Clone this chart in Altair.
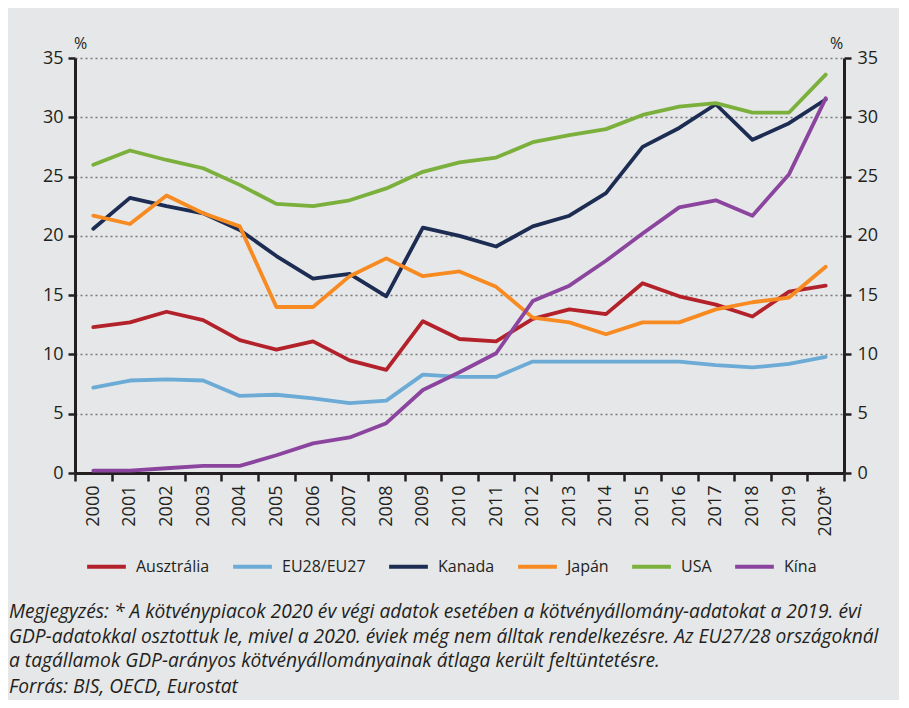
import altair as alt
import pandas as pd

years = [str(y) for y in range(2000, 2020)] + ["2020*"]

series_names = ["Ausztrália", "EU28/EU27", "Kanada", "Japán", "USA", "Kína"]
series_colors = ["#b3222b", "#6cabd6", "#1c2c52", "#f78b21", "#7bb03c", "#8b459e"]

ausztralia = [12.3, 12.7, 13.6, 12.9, 11.2, 10.4, 11.1, 9.5, 8.7, 12.8, 11.3, 11.1,
              13.0, 13.8, 13.4, 16.0, 14.9, 14.2, 13.2, 15.3, 15.8]
eu = [7.2, 7.8, 7.9, 7.8, 6.5, 6.6, 6.3, 5.9, 6.1, 8.3, 8.1, 8.1,
      9.4, 9.4, 9.4, 9.4, 9.4, 9.1, 8.9, 9.2, 9.8]
kanada = [20.6, 23.2, 22.5, 21.9, 20.5, 18.3, 16.4, 16.8, 14.9, 20.7, 20.0, 19.1,
          20.8, 21.7, 23.6, 27.5, 29.1, 31.1, 28.1, 29.5, 31.5]
japan = [21.7, 21.0, 23.4, 21.9, 20.8, 14.0, 14.0, 16.6, 18.1, 16.6, 17.0, 15.7,
         13.1, 12.7, 11.7, 12.7, 12.7, 13.8, 14.4, 14.8, 17.4]
usa = [26.0, 27.2, 26.4, 25.7, 24.3, 22.7, 22.5, 23.0, 24.0, 25.4, 26.2, 26.6,
       27.9, 28.5, 29.0, 30.2, 30.9, 31.2, 30.4, 30.4, 33.6]
kina = [0.2, 0.2, 0.4, 0.6, 0.6, 1.5, 2.5, 3.0, 4.2, 7.0, 8.5, 10.1,
        14.5, 15.8, 17.9, 20.2, 22.4, 23.0, 21.7, 25.2, 31.6]

y_ticks = [0, 5, 10, 15, 20, 25, 30, 35]

note_text = ("Megjegyzés: * A kötvénypiacok 2020 év végi adatok esetében a kötvényállomány-adatokat a 2019. évi\n"
             "GDP-adatokkal osztottuk le, mivel a 2020. éviek még nem álltak rendelkezésre. Az EU27/28 országoknál\n"
             "a tagállamok GDP-arányos kötvényállományainak átlaga került feltüntetésre.")
source_text = "Forrás: BIS, OECD, Eurostat"

rows = []
for k, (name, vals) in enumerate(zip(series_names, [ausztralia, eu, kanada, japan, usa, kina])):
    for yr, v in zip(years, vals):
        rows.append({"Év": yr, "Ország": name, "Érték": v, "k": k})
df = pd.DataFrame(rows)

FONT = "Open Sans"
INK = "#231f20"
W, H = 769, 415

x_scale = alt.Scale(type="band", paddingInner=0, paddingOuter=0)
x_axis = alt.Axis(labelAngle=270, labelAlign="right", labelBaseline="middle",
                  tickBand="extent", tickSize=8, tickWidth=2.5, tickColor=INK,
                  domainColor=INK, domainWidth=3, labelPadding=4,
                  labelFontSize=18, labelColor=INK, grid=False, labelFont=FONT)
y_scale = alt.Scale(domain=[0, 35], nice=False)

lines = alt.Chart(df).mark_line(strokeWidth=3.8, strokeJoin="round", strokeCap="round").encode(
    x=alt.X("Év:O", sort=years, title=None, scale=x_scale, axis=x_axis),
    y=alt.Y("Érték:Q", scale=y_scale,
            axis=alt.Axis(values=y_ticks, orient="left", title="%", titleAngle=0,
                          titleAlign="center", titleBaseline="bottom", titleX=5, titleY=-7,
                          titleFontSize=16, titleFontWeight="normal", titleColor=INK, titleFont=FONT,
                          grid=True, gridDash=[2, 3], gridColor="#7a7a7a", gridWidth=1.3,
                          tickSize=7, tickWidth=2.5, tickColor=INK,
                          domainColor=INK, domainWidth=3, labelPadding=5,
                          labelFontSize=18, labelColor=INK, labelFont=FONT)),
    color=alt.Color("Ország:N", sort=series_names,
                    scale=alt.Scale(domain=series_names, range=series_colors),
                    legend=alt.Legend(title=None, orient="none", direction="horizontal",
                                      legendX=10, legendY=487, symbolType="stroke",
                                      symbolSize=1500, symbolStrokeWidth=4,
                                      labelFontSize=16, labelColor=INK, labelFont=FONT,
                                      columnPadding=15, labelOffset=8)),
    order=alt.Order("k:Q"),
)

right_axis = alt.Chart(df).mark_point(opacity=0).encode(
    x=alt.X("Év:O", sort=years, title=None, scale=x_scale, axis=x_axis),
    y=alt.Y("Érték:Q", scale=y_scale,
            axis=alt.Axis(values=y_ticks, orient="right", title="%", titleAngle=0,
                          titleAlign="center", titleBaseline="bottom", titleX=-8, titleY=-7,
                          titleFontSize=16, titleFontWeight="normal", titleColor=INK, titleFont=FONT,
                          grid=False, tickSize=7, tickWidth=2.5, tickColor=INK,
                          domainColor=INK, domainWidth=3, labelPadding=6,
                          labelFontSize=18, labelColor=INK, labelFont=FONT)),
)

notes = alt.Chart(pd.DataFrame({"t": [note_text]})).mark_text(
    align="left", baseline="middle", fontStyle="italic", fontSize=19.2,
    lineBreak="\n", lineHeight=24.5, color=INK, font=FONT,
).encode(text="t:N", x=alt.value(-66), y=alt.value(554))

source = alt.Chart(pd.DataFrame({"t": [source_text]})).mark_text(
    align="left", baseline="middle", fontStyle="italic", fontSize=19.2,
    color=INK, font=FONT,
).encode(text="t:N", x=alt.value(-66), y=alt.value(629))

chart = alt.layer(lines, right_axis, notes, source).resolve_axis(y="independent").properties(
    width=W, height=H,
    padding={"left": 67, "top": 50, "right": 55, "bottom": 227},
    autosize=alt.AutoSizeParams(type="none"),
    background="#e6e7e9",
).configure(font=FONT).configure_view(stroke=None)

chart.save("out.html", embed_options={"renderer": "svg", "actions": False})
